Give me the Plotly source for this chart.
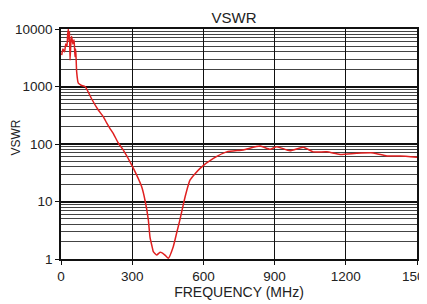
import plotly.graph_objects as go

freq_mhz = [3, 8, 15, 20, 25, 28, 31, 34, 36, 38, 42, 45, 50, 55, 59, 62, 66, 73, 85, 101,
            115, 130, 157, 178, 193, 206, 220, 242, 262, 302, 340, 355, 368, 375, 386, 389,
            403, 416, 424, 438, 452, 473, 487, 501, 523, 544, 586, 642, 698, 768, 839, 881,
            909, 965, 1021, 1063, 1120, 1176, 1246, 1316, 1373, 1429, 1500]
vswr = [3500, 4500, 4000, 5500, 5000, 8000, 10000, 6000, 9000, 2900, 6000, 7400, 5500, 6500,
        3300, 4500, 1800, 1140, 1050, 1000, 800, 600, 390, 300, 230, 187, 153, 103, 79, 40,
        18, 10, 4.8, 2.4, 1.5, 1.34, 1.17, 1.3, 1.29, 1.17, 1.03, 1.64, 2.8, 4.8, 12.1, 23.7,
        37.7, 56, 73, 79, 92, 81, 90, 76, 87.6, 73, 73, 66, 69, 70, 62, 62, 59]

x_ticks = [0, 300, 600, 900, 1200, 1500]
y_ticks = [1, 10, 100, 1000, 10000]
y_tick_labels = ["1", "10", "100", "1000", "10000"]

# page has an 8px body margin; size and margins compensate for it
W, H = 419, 296
ML, MR, MT, MB = 53, 10, 21, 45
plot_w, plot_h = W - ML - MR, H - MT - MB

fig = go.Figure(go.Scatter(x=freq_mhz, y=vswr, mode="lines",
                           line=dict(color="#e02020", width=1.5, shape="spline", smoothing=0.5),
                           showlegend=False))

fam = "Liberation Sans, Arial, sans-serif"
fig.update_layout(
    width=W, height=H,
    margin=dict(l=ML, r=MR, t=MT, b=MB),
    paper_bgcolor="white", plot_bgcolor="white",
    font=dict(family=fam, size=13.5, color="#222"),
    title=dict(text="VSWR", x=226 / W, xanchor="center", xref="container",
               y=1 - 9.5 / H, yanchor="middle", yref="container",
               font=dict(size=15, color="#222")),
    annotations=[dict(text="VSWR", x=(7.5 - ML) / plot_w, y=(H - MB - 130) / plot_h,
                      xref="paper", yref="paper", xanchor="center", yanchor="middle",
                      showarrow=False, textangle=-90, font=dict(size=12, color="#222"))],
)

fig.update_xaxes(
    range=[0, 1500], tickvals=x_ticks, ticktext=[str(v) for v in x_ticks],
    showgrid=True, gridcolor="#111", gridwidth=1,
    showline=True, linecolor="#111", linewidth=1.5, mirror=True,
    ticks="outside", ticklen=4, tickcolor="#111",
    ticklabeloverflow="allow", automargin=False,
    title=dict(text="FREQUENCY (MHz)", standoff=0, font=dict(size=14)),
    zeroline=False,
)
fig.update_yaxes(
    type="log", range=[0, 4], tickvals=y_ticks, ticktext=y_tick_labels,
    showgrid=True, gridcolor="#111", gridwidth=1.5,
    showline=True, linecolor="#111", linewidth=1.5, mirror=True,
    ticks="outside", ticklen=4, tickcolor="#111",
    ticklabeloverflow="allow", automargin=False,
    minor=dict(dtick="D1", showgrid=True, gridcolor="#444", gridwidth=1, ticks=""),
    zeroline=False,
)

fig.write_html("out.html")
